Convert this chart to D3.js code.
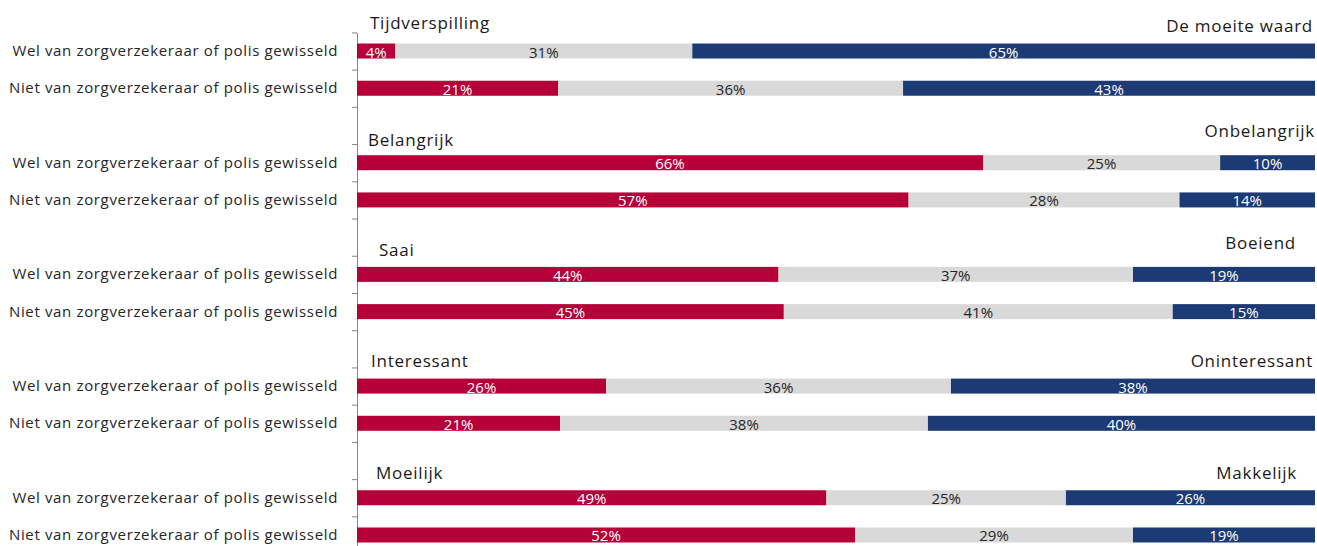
<!DOCTYPE html>
<html><head><meta charset="utf-8">
<script src="https://cdn.jsdelivr.net/npm/d3@7"></script>
<style>
body{margin:0;background:#fff;}
svg{display:block;font-family:"Open Sans",sans-serif;}
</style></head>
<body><svg id="chart" width="1317" height="546"></svg>
<script>
// ---- data ----
const leftTitles = ["Tijdverspilling","Belangrijk","Saai","Interessant","Moeilijk"];
const rightTitles = ["De moeite waard","Onbelangrijk","Boeiend","Oninteressant","Makkelijk"];
const rowLabels = ["Wel van zorgverzekeraar of polis gewisseld","Niet van zorgverzekeraar of polis gewisseld"];
const negative = [4,21,66,57,44,45,26,21,49,52];
const neutral  = [31,36,25,28,37,41,36,38,25,29];
const positive = [65,43,10,14,19,15,38,40,26,19];
const seriesNames = ["negative","neutral","positive"];

// ---- layout ----
const W = 1317, H = 546;
const x0 = 357, x1 = 1315;
const yTop = 32.4, yBot = 553.6;
const colors = {negative:"#b5003a", neutral:"#d9d9d9", positive:"#1c3a74"};
const labelColors = {negative:"#ffffff", neutral:"#262626", positive:"#ffffff"};
const leftTitleOffsets = [[13,-15],[11,-9],[22,-11],[14,-12],[19,-11]];
const rightTitleOffsets = [[-2,-12],[0,-18],[-19,-18],[-2,-12],[-18,-11]];

// slots: 5 groups, each = 2 bars + 1 spacer (last group has no trailing spacer)
const slots = [];
let bi = 0;
leftTitles.forEach((t,g)=>{
  rowLabels.forEach((r,k)=>{ slots.push({id:"b"+bi, bar:bi, group:g, label:r}); bi++; });
  if (g < leftTitles.length-1) slots.push({id:"s"+g, bar:null, group:g});
});

const rows = negative.map((v,i)=>({negative:v, neutral:neutral[i], positive:positive[i]}));

const svg = d3.select("#chart");
const y = d3.scaleBand().domain(slots.map(s=>s.id)).range([yTop,yBot]).paddingInner(0.597).paddingOuter(0.597/2);
const x = d3.scaleLinear().domain([0,1]).range([x0,x1]);
const yTicks = d3.scaleLinear().domain([0,slots.length]).range([yTop,yBot]);

// axis
const ax = svg.append("g").attr("transform",`translate(${x0},0)`)
  .call(d3.axisLeft(yTicks).tickValues(d3.range(slots.length+1)).tickFormat("").tickSize(5).tickSizeOuter(0));
ax.selectAll("path,line").attr("stroke","#868686").attr("stroke-width",1);

// stacked bars (normalised to 100%)
const stack = d3.stack().keys(seriesNames).offset(d3.stackOffsetExpand);
const stacked = stack(rows);
const barSlots = slots.filter(s=>s.bar!==null);

stacked.forEach(layer=>{
  const key = layer.key;
  const g = svg.append("g");
  layer.forEach((seg,i)=>{
    const s = barSlots[i];
    g.append("rect")
      .attr("x", x(seg[0])).attr("y", y(s.id))
      .attr("width", x(seg[1])-x(seg[0])).attr("height", y.bandwidth())
      .attr("fill", colors[key]);
    g.append("text")
      .attr("x", (x(seg[0])+x(seg[1]))/2)
      .attr("y", y(s.id)+y.bandwidth()-1)
      .attr("text-anchor","middle")
      .attr("font-size",15)
      .attr("fill", labelColors[key])
      .text(rows[i][key]+"%");
  });
});

// category labels
svg.append("g").selectAll("text").data(barSlots).join("text")
  .attr("x", 338).attr("y", d=>y(d.id)+y.bandwidth()/2+5)
  .attr("text-anchor","end").attr("font-size",15).attr("letter-spacing","0.65px")
  .attr("fill","#262626").text(d=>d.label);

// group titles
leftTitles.forEach((t,g)=>{
  const s = barSlots[g*2];
  svg.append("text").attr("x", x0+leftTitleOffsets[g][0]).attr("y", y(s.id)+leftTitleOffsets[g][1])
    .attr("font-size",17).attr("letter-spacing","0.75px").attr("fill","#1a1a1a").text(t);
});
rightTitles.forEach((t,g)=>{
  const s = barSlots[g*2];
  svg.append("text").attr("x", x1+rightTitleOffsets[g][0]).attr("y", y(s.id)+rightTitleOffsets[g][1])
    .attr("text-anchor","end")
    .attr("font-size",17).attr("letter-spacing","0.75px").attr("fill","#1a1a1a").text(t);
});
</script></body></html>
